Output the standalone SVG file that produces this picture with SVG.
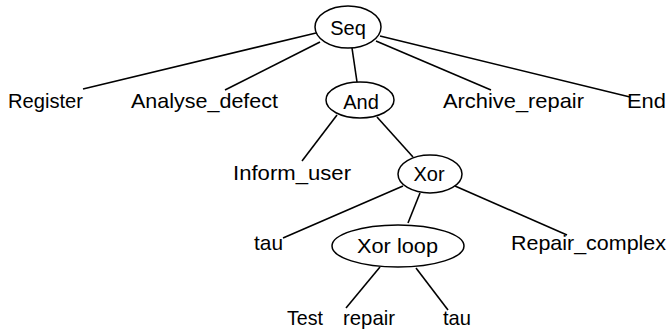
<svg xmlns="http://www.w3.org/2000/svg" width="670" height="329" viewBox="0 0 670 329">
<style>
.n{fill:#fff;stroke:#000;stroke-width:1.5}
.e{stroke:#000;stroke-width:1.6;fill:none}
text{font-family:"Liberation Sans","DejaVu Sans",sans-serif;font-size:21px;fill:#000}
.c{text-anchor:middle;font-size:20px}
</style>
<rect width="670" height="329" fill="#fff"/>
<g id="edges">
<line class="e" x1="316" y1="33" x2="83" y2="89"/>
<line class="e" x1="320" y1="42" x2="225" y2="90"/>
<line class="e" x1="352" y1="48" x2="357" y2="82"/>
<line class="e" x1="376" y1="41" x2="491" y2="90"/>
<line class="e" x1="380" y1="36" x2="630" y2="97"/>
<line class="e" x1="337" y1="115" x2="302" y2="161"/>
<line class="e" x1="377" y1="117" x2="413" y2="157"/>
<line class="e" x1="403" y1="186" x2="283" y2="238"/>
<line class="e" x1="420" y1="193" x2="408" y2="223"/>
<line class="e" x1="455" y1="186" x2="567" y2="235"/>
<line class="e" x1="380" y1="267" x2="346" y2="308"/>
<line class="e" x1="416" y1="268" x2="448" y2="310"/>
</g>
<g id="seq"><ellipse class="n" cx="348" cy="27" rx="33" ry="21"/><text class="c" x="348" y="35">Seq</text></g>
<g id="register"><text x="8" y="108" textLength="75" lengthAdjust="spacingAndGlyphs">Register</text></g>
<g id="analyse"><text x="131" y="108" textLength="147" lengthAdjust="spacingAndGlyphs">Analyse_defect</text></g>
<g id="and"><ellipse class="n" cx="360" cy="100" rx="34" ry="18"/><text class="c" x="361" y="109">And</text></g>
<g id="archive"><text x="443" y="108" textLength="141" lengthAdjust="spacingAndGlyphs">Archive_repair</text></g>
<g id="end"><text x="627" y="108" textLength="39" lengthAdjust="spacingAndGlyphs">End</text></g>
<g id="inform"><text x="233" y="180" textLength="118" lengthAdjust="spacingAndGlyphs">Inform_user</text></g>
<g id="xor"><ellipse class="n" cx="430" cy="174" rx="32" ry="19"/><text class="c" x="429" y="181">Xor</text></g>
<g id="tau1"><text x="254" y="250" textLength="29" lengthAdjust="spacingAndGlyphs">tau</text></g>
<g id="xorloop"><ellipse class="n" cx="398" cy="246" rx="66" ry="21"/><text x="357" y="253" textLength="81" lengthAdjust="spacingAndGlyphs">Xor loop</text></g>
<g id="repaircomplex"><text x="511" y="250" textLength="155" lengthAdjust="spacingAndGlyphs">Repair_complex</text></g>
<g id="test"><text y="325"><tspan x="287" textLength="36" lengthAdjust="spacingAndGlyphs">Test</tspan><tspan x="343" textLength="52" lengthAdjust="spacingAndGlyphs">repair</tspan></text></g>
<g id="tau2"><text x="443" y="325" textLength="28" lengthAdjust="spacingAndGlyphs">tau</text></g>
</svg>
